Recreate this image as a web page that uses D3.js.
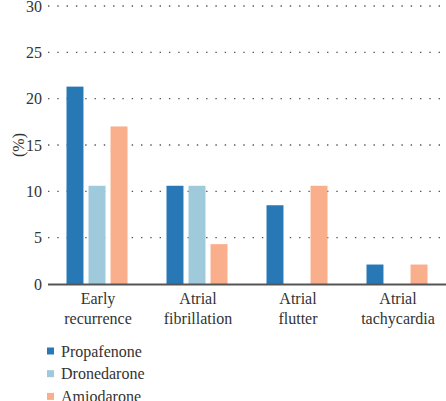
<!DOCTYPE html>
<html>
<head>
<meta charset="utf-8">
<script src="https://cdn.jsdelivr.net/npm/d3@7"></script>
<style>
  body { margin: 0; background: #fff; }
</style>
</head>
<body>
<svg id="chart"></svg>
<script>
// data (percent)
const categories = [["Early", "recurrence"], ["Atrial", "fibrillation"], ["Atrial", "flutter"], ["Atrial", "tachycardia"]];
const seriesNames = ["Propafenone", "Dronedarone", "Amiodarone"];
const propafenone = [21.3, 10.6, 8.5, 2.1];
const dronedarone = [10.6, 10.6, 0, 0];
const amiodarone = [17.0, 4.3, 10.6, 2.1];
const yTicks = [0, 5, 10, 15, 20, 25, 30];
const colors = ["#2878b6", "#9ecadc", "#f9ae8c"];

const width = 446, height = 401;
const margin = { left: 48, right: 0, top: 6, bottom: 117 };

const svg = d3.select("#chart")
  .attr("width", width)
  .attr("height", height)
  .style("font-family", "'Liberation Serif', 'DejaVu Serif', 'Times New Roman', serif")
  .attr("fill", "#333");

const x = d3.scaleBand()
  .domain(d3.range(categories.length))
  .range([47, 447]);

const xInner = d3.scaleBand()
  .domain(seriesNames)
  .range([19.5, 80.5])
  .paddingInner(0.23);

const y = d3.scaleLinear()
  .domain([0, 30])
  .range([height - margin.bottom, margin.top]);

// dotted gridlines
svg.append("g")
  .selectAll("line")
  .data(yTicks.filter(d => d > 0))
  .join("line")
    .attr("x1", margin.left)
    .attr("x2", width)
    .attr("y1", d => y(d))
    .attr("y2", d => y(d))
    .attr("stroke", "#555")
    .attr("stroke-width", 1.4)
    .attr("stroke-dasharray", "1.4,7.9");

// y tick labels
svg.append("g")
  .selectAll("text")
  .data(yTicks)
  .join("text")
    .attr("x", 42)
    .attr("y", d => y(d))
    .attr("dy", "0.35em")
    .attr("text-anchor", "end")
    .attr("font-size", 16)
    .text(d => d);

svg.append("text")
  .attr("transform", `translate(18,${y(15)}) rotate(-90)`)
  .attr("text-anchor", "middle")
  .attr("dy", "0.35em")
  .attr("font-size", 16)
  .text("(%)");

// bars
const series = [propafenone, dronedarone, amiodarone];
const groups = svg.append("g")
  .selectAll("g")
  .data(categories)
  .join("g")
    .attr("transform", (d, i) => `translate(${x(i)},0)`);

groups.selectAll("rect")
  .data((d, i) => series.map((s, j) => ({ name: seriesNames[j], value: s[i], color: colors[j] })))
  .join("rect")
    .attr("x", d => xInner(d.name))
    .attr("width", xInner.bandwidth())
    .attr("y", d => y(d.value))
    .attr("height", d => y(0) - y(d.value))
    .attr("fill", d => d.color);

// x axis line
svg.append("line")
  .attr("x1", margin.left)
  .attr("x2", width)
  .attr("y1", y(0) + 0.5)
  .attr("y2", y(0) + 0.5)
  .attr("stroke", "#555")
  .attr("stroke-width", 2);

// category labels
groups.append("text")
  .attr("x", x.bandwidth() / 2 + 1)
  .attr("y", y(0) + 19.5)
  .attr("text-anchor", "middle")
  .attr("font-size", 16)
  .selectAll("tspan")
  .data(d => d)
  .join("tspan")
    .attr("x", x.bandwidth() / 2 + 1)
    .attr("dy", (d, i) => i === 0 ? 0 : 20.5)
    .text(d => d);

// legend
const legend = svg.append("g")
  .selectAll("g")
  .data(seriesNames)
  .join("g")
    .attr("transform", (d, i) => `translate(47,${351 + i * 22.7})`);

legend.append("rect")
  .attr("x", 0)
  .attr("y", -3.5)
  .attr("width", 7)
  .attr("height", 7)
  .attr("fill", (d, i) => colors[i]);

legend.append("text")
  .attr("x", 14)
  .attr("dy", "0.35em")
  .attr("font-size", 16)
  .text(d => d);
</script>
</body>
</html>
